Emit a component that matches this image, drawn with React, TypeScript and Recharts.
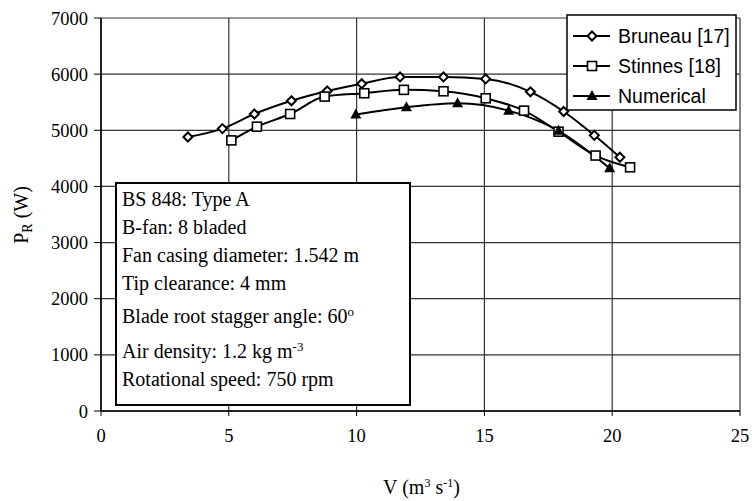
import { LineChart, Line, XAxis, YAxis, CartesianGrid } from "recharts";

// volume flow (m3/s) and rotor power (W)
const bruneauV = [3.4, 4.75, 6.0, 7.45, 8.85, 10.2, 11.7, 13.4, 15.05, 16.8, 18.1, 19.3, 20.3];
const bruneauP = [4880, 5030, 5290, 5525, 5700, 5830, 5950, 5950, 5915, 5685, 5335, 4910, 4520];

const stinnesV = [5.1, 6.1, 7.4, 8.75, 10.3, 11.85, 13.4, 15.05, 16.55, 17.9, 19.35, 20.7];
const stinnesP = [4820, 5065, 5290, 5600, 5660, 5720, 5695, 5570, 5350, 4975, 4550, 4340];

const numericalV = [9.97, 11.95, 13.95, 15.95, 17.9, 19.9];
const numericalP = [5280, 5410, 5480, 5350, 4990, 4325];

const xTicks = [0, 5, 10, 15, 20, 25];
const yTicks = [0, 1000, 2000, 3000, 4000, 5000, 6000, 7000];

const infoLines = [
  "BS 848: Type A",
  "B-fan: 8 bladed",
  "Fan casing diameter: 1.542 m",
  "Tip clearance: 4 mm",
  "Blade root stagger angle: 60°",
  "Air density: 1.2 kg m-3",
  "Rotational speed: 750 rpm",
];

const bruneau = bruneauV.map((v, i) => ({ v, p: bruneauP[i] }));
const stinnes = stinnesV.map((v, i) => ({ v, p: stinnesP[i] }));
const numerical = numericalV.map((v, i) => ({ v, p: numericalP[i] }));

const serif = "'Liberation Serif', 'DejaVu Serif', serif";
const sans = "'Liberation Sans', Arial, sans-serif";

function Diamond(props: any) {
  const { cx, cy } = props;
  if (cx == null || cy == null) return null;
  const s = 4.5;
  return <polygon points={`${cx},${cy - s} ${cx + s},${cy} ${cx},${cy + s} ${cx - s},${cy}`} fill="#fff" stroke="#000" strokeWidth={2} />;
}

function Square(props: any) {
  const { cx, cy } = props;
  if (cx == null || cy == null) return null;
  return <rect x={cx - 4.5} y={cy - 4.5} width={9} height={9} fill="#fff" stroke="#000" strokeWidth={1.6} />;
}

function Triangle(props: any) {
  const { cx, cy } = props;
  if (cx == null || cy == null) return null;
  return <polygon points={`${cx},${cy - 6} ${cx + 5.5},${cy + 4} ${cx - 5.5},${cy + 4}`} fill="#000" />;
}

const legendItems = [
  { name: "Bruneau [17]", Marker: Diamond },
  { name: "Stinnes [18]", Marker: Square },
  { name: "Numerical", Marker: Triangle },
];

function LegendBox() {
  return (
    <svg width={172} height={98} style={{ display: "block" }}>
      <rect x={1} y={1} width={169} height={95} fill="#fff" stroke="#000" strokeWidth={1.5} />
      {legendItems.map((it, i) => {
        const y = 22 + i * 30;
        return (
          <g key={it.name}>
            <line x1={7} x2={44} y1={y} y2={y} stroke="#000" strokeWidth={2} />
            <it.Marker cx={26} cy={y} />
            <text x={52} y={y + 7} fontFamily={sans} fontSize={19.5} fill="#000">
              {it.name}
            </text>
          </g>
        );
      })}
    </svg>
  );
}

export default function App() {
  return (
    <div style={{ position: "absolute", left: 0, top: 0, width: 752, height: 501, background: "#fff" }}>
      <LineChart width={752} height={501} margin={{ top: 18, right: 12, bottom: 40, left: 0 }}>
        <CartesianGrid stroke="#333" strokeWidth={1.2} horizontalValues={yTicks} verticalValues={xTicks} />
        <XAxis
          type="number"
          dataKey="v"
          domain={[0, 25]}
          ticks={xTicks}
          height={50}
          tickSize={5}
          tickMargin={13}
          axisLine={{ stroke: "#000", strokeWidth: 1.5 }}
          tickLine={{ stroke: "#000" }}
          tick={{ fontFamily: serif, fontSize: 18.5, fill: "#000" }}
          label={(p: any) => {
            const vb = p.viewBox;
            const cx = vb.x + vb.width / 2 + 1;
            return (
              <text x={cx} y={494} textAnchor="middle" fontFamily={serif} fontSize={20} fill="#000">
                V (m
                <tspan dy={-7} fontSize={12}>3</tspan>
                <tspan dy={7}> s</tspan>
                <tspan dy={-7} fontSize={12}>-1</tspan>
                <tspan dy={7}>)</tspan>
              </text>
            );
          }}
        />
        <YAxis
          type="number"
          dataKey="p"
          domain={[0, 7000]}
          ticks={yTicks}
          width={101}
          tickSize={7}
          tickMargin={6}
          axisLine={{ stroke: "#000", strokeWidth: 1.5 }}
          tickLine={{ stroke: "#000" }}
          tick={{ fontFamily: serif, fontSize: 18.5, fill: "#000" }}
          label={() => (
            <text x={0} y={0} transform="translate(28,215) rotate(-90)" textAnchor="middle" fontFamily={serif} fontSize={20} fill="#000">
              P
              <tspan dy={4} fontSize={14}>R</tspan>
              <tspan dy={-4}> (W)</tspan>
            </text>
          )}
        />
        <Line data={bruneau} dataKey="p" name="Bruneau [17]" type="monotone" stroke="#000" strokeWidth={2} dot={<Diamond />} isAnimationActive={false} />
        <Line data={stinnes} dataKey="p" name="Stinnes [18]" type="monotone" stroke="#000" strokeWidth={2} dot={<Square />} isAnimationActive={false} />
        <Line data={numerical} dataKey="p" name="Numerical" type="monotone" stroke="#000" strokeWidth={2} dot={<Triangle />} isAnimationActive={false} />
      </LineChart>
      <div style={{ position: "absolute", left: 566, top: 14 }}>
        <LegendBox />
      </div>
      <div
        style={{
          position: "absolute",
          left: 115,
          top: 182,
          width: 296,
          height: 224,
          border: "2px solid #000",
          background: "#fff",
          fontFamily: serif,
          fontSize: 20,
          color: "#000",
          boxSizing: "border-box",
        }}
      >
        {infoLines.map((t, i) => {
          const tops = [4, 32, 60, 88, 121, 156, 184];
          let content: any = t;
          if (t.includes("60°")) {
            content = (
              <>
                {t.replace("°", "")}
                <sup style={{ fontSize: 13, verticalAlign: "top", position: "relative", top: -4 }}>o</sup>
              </>
            );
          } else if (t.includes("m-3")) {
            content = (
              <>
                {t.replace("-3", "")}
                <sup style={{ fontSize: 13, verticalAlign: "top", position: "relative", top: -4 }}>-3</sup>
              </>
            );
          }
          return (
            <div key={i} style={{ position: "absolute", left: 5, top: tops[i], whiteSpace: "nowrap", lineHeight: "22px" }}>
              {content}
            </div>
          );
        })}
      </div>
    </div>
  );
}
